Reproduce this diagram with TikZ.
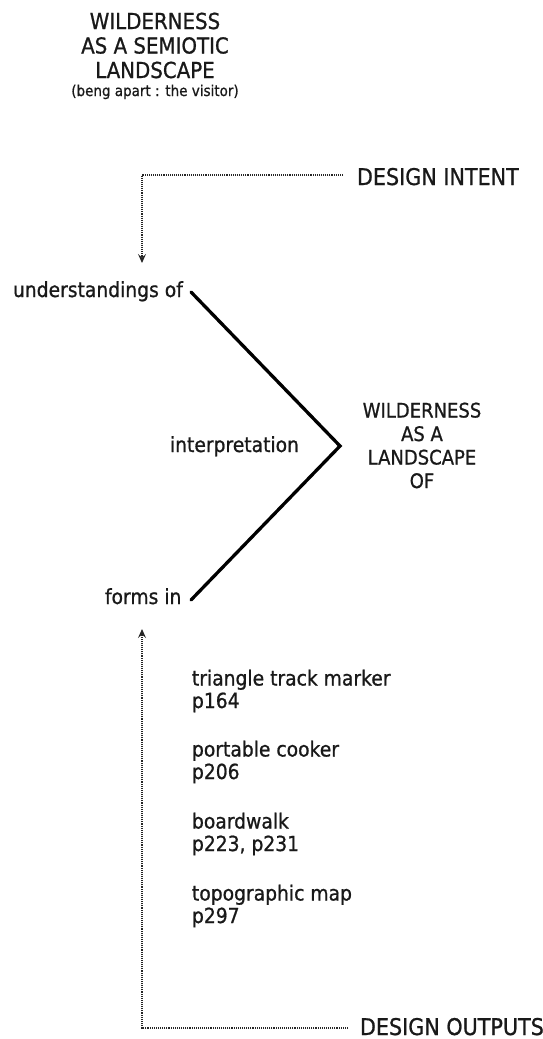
\documentclass[tikz,border=0pt]{standalone}
\usepackage{fontspec}
\setmainfont{DejaVu Sans}[FakeStretch=0.9,FakeBold=0.9]
\usetikzlibrary{arrows.meta}
\begin{document}
\begin{tikzpicture}[x=1pt,y=-1pt,
  txt/.style={inner sep=0pt,outer sep=0pt,text=black!90},
  body/.style={txt,font=\fontsize{20.8}{22.5}\selectfont,anchor=base west},
  head/.style={txt,font=\fontsize{23}{26}\selectfont,anchor=base west},
  dotline/.style={line width=1.9pt,dash pattern=on 1.1pt off 1pt,draw=black!85},
  tip/.style={-{Stealth[length=9pt,width=8pt,inset=3.5pt]}},
  thick line/.style={line width=3.3pt,line cap=round,line join=miter}]
  \useasboundingbox (0,0) rectangle (542,1039);

  % title block (anchored on the baseline of its last line)
  \node[txt,font=\fontsize{22}{24.5}\selectfont,align=center,anchor=base] (title) at (155,78)
    {WILDERNESS\\AS A SEMIOTIC\\LANDSCAPE};
  \node[txt,font=\fontsize{15}{17}\selectfont,anchor=base] (sub) at (155,96)
    {(beng apart : the visitor)};

  % design intent, fed down to the first term
  \node[head] (intent) at (357,185) {DESIGN INTENT};
  \coordinate (intentEnd) at (343,175);
  \coordinate (intentBend) at (142,175);
  \coordinate (intentTip) at (142,263);
  \draw[dotline,tip] (intentEnd) -- (intentBend) -- (intentTip);

  % the two arms of the interpretation chevron
  \node[body] (und) at (13,297) {understandings of};
  \node[body] (interp) at (170,452) {interpretation};
  \node[body] (forms) at (105,604) {forms in};
  \coordinate (armTop) at (191,292);
  \coordinate (apex) at (340,446);
  \coordinate (armBot) at (191,600);
  \draw[thick line] (armTop) -- (apex) -- (armBot);

  \node[txt,font=\fontsize{20}{23.5}\selectfont,align=center,anchor=base] (land) at (422,488)
    {WILDERNESS\\AS A\\LANDSCAPE\\OF};

  % worked examples (anchored on the baseline of the page line)
  \node[body,align=left] (ex1) at (192,708) {triangle track marker\\p164};
  \node[body,align=left] (ex2) at (192,779) {portable cooker\\p206};
  \node[body,align=left] (ex3) at (192,851) {boardwalk\\p223, p231};
  \node[body,align=left] (ex4) at (192,923) {topographic map\\p297};

  % design outputs, fed back up to the second term
  \node[head] (outputs) at (360,1035) {DESIGN OUTPUTS};
  \coordinate (outEnd) at (348,1028);
  \coordinate (outBend) at (142,1028);
  \coordinate (outTip) at (142,629);
  \draw[dotline,tip] (outEnd) -- (outBend) -- (outTip);
\end{tikzpicture}
\end{document}
